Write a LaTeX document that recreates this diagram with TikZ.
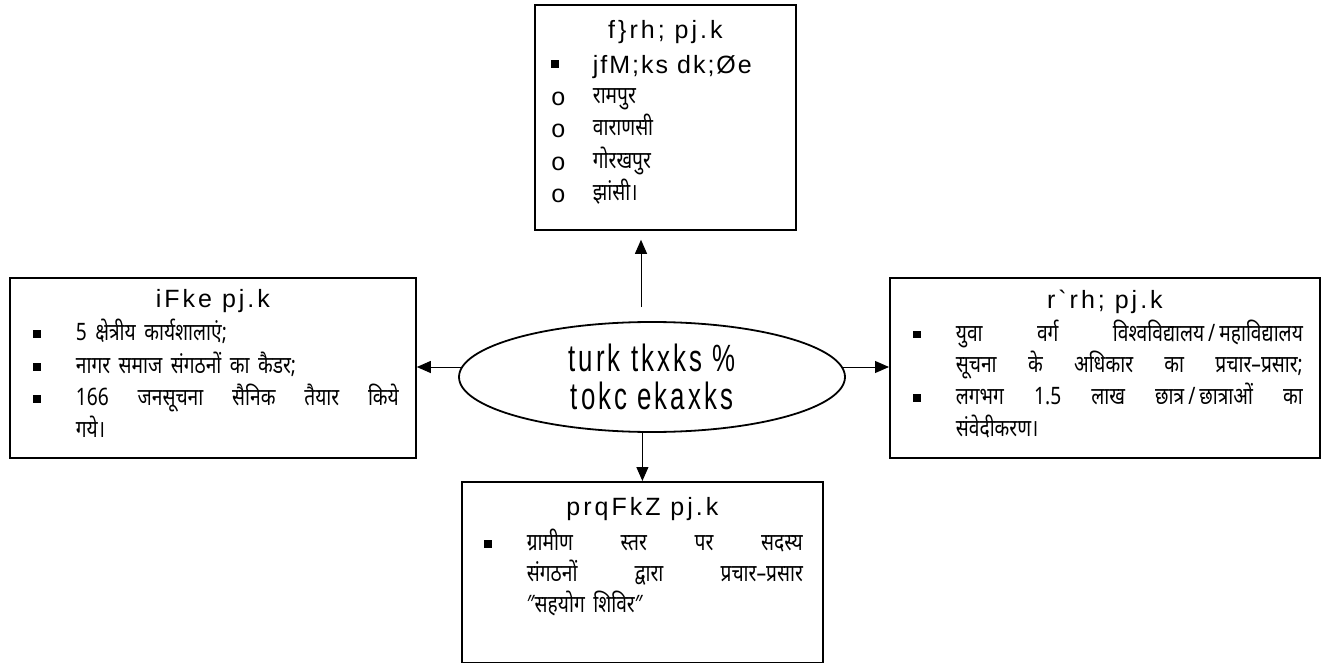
\documentclass[tikz,border=0pt]{standalone}
\usepackage{fontspec}
\setmainfont{Liberation Sans}
\newfontfamily\hindi[Script=Devanagari,FakeStretch=0.8,WordSpace=1.7]{Noto Sans}
\newfontfamily\kruti[LetterSpace=12]{Liberation Sans}
\newfontfamily\krutimid[FakeStretch=0.68,LetterSpace=8]{Liberation Sans}
\newfontfamily\cour{Liberation Mono}
\usetikzlibrary{shapes.geometric, arrows.meta, positioning}

\newcommand{\sqb}{\raisebox{2.5pt}{\rule{8pt}{8pt}}}
\newcommand{\cib}{\raisebox{-2pt}{\cour\fontsize{25}{25}\selectfont o}}
\newcommand{\bul}[3]{\par\noindent\llap{\makebox[#1][l]{#2}}#3}
\newcommand{\cont}[1]{\par\noindent #1}
\newcommand{\ttl}[2]{{\centering\kruti\fontsize{25}{30}\selectfont\rule{0pt}{#1}#2\par}}
\newcommand{\body}[2]{\raggedright\hindi\fontsize{24}{#2}\selectfont\leftskip=#1}

\begin{document}
\begin{tikzpicture}[x=1pt, y=-1pt,
    box/.style={draw, line width=1.8pt, inner sep=0pt, anchor=north west},
    conn/.style={line width=1pt, -{Triangle[length=14pt,width=12pt]}}]
  \useasboundingbox (0,0) rectangle (1323,663);

  % centre
  \node[ellipse, draw, line width=1.8pt, minimum width=386pt, minimum height=110pt,
        inner sep=0pt, align=center, font=\krutimid\fontsize{38}{38}\selectfont]
        (ell) at (652,377) {turk tkxks \%\\tokc ekaxks};

  % phase boxes
  \node[box] (top) at (534,4) {\parbox[t][225pt][t]{261pt}{\lineskiplimit=-100pt
    \ttl{34pt}{f\}rh; pj.k}
    \vspace{2.5pt}
    \body{58pt}{32.5pt}
    \bul{42pt}{\raisebox{6pt}{\rule{8pt}{8pt}}}{{\kruti\fontsize{25}{32.5}\selectfont\addfontfeature{LetterSpace=8}jfM;ks dk;Øe}}
    \vspace{-3pt}
    \bul{42pt}{\cib}{रामपुर}
    \bul{42pt}{\cib}{वाराणसी}
    \bul{42pt}{\cib}{गोरखपुर}
    \bul{42pt}{\cib}{झांसी।}}};

  \node[box] (left) at (9,277) {\parbox[t][180pt][t]{406pt}{\lineskiplimit=-100pt
    \ttl{30pt}{iFke pj.k}
    \vspace{0.7pt}
    \body{66pt}{32.3pt}
    \bul{43pt}{\sqb}{5 क्षेत्रीय कार्यशालाएं;}
    \bul{43pt}{\sqb}{नागर समाज संगठनों का कैडर;}
    \bul{43pt}{\sqb}{\makebox[323pt][s]{166 जनसूचना सैनिक तैयार किये}}
    \cont{गये।}}};

  \node[box] (right) at (889,277) {\parbox[t][180pt][t]{430pt}{\lineskiplimit=-100pt
    \ttl{31pt}{r`rh; pj.k}
    \vspace{0.3pt}
    \body{66pt}{31.8pt}
    \bul{43pt}{\sqb}{\makebox[347pt][s]{युवा वर्ग विश्वविद्यालय\,/\,महाविद्यालय}}
    \cont{\makebox[347pt][s]{सूचना के अधिकार का प्रचार–प्रसार;}}
    \bul{43pt}{\sqb}{\makebox[347pt][s]{लगभग 1.5 लाख छात्र\,/\,छात्राओं का}}
    \cont{संवेदीकरण।}}};

  \node[box] (bottom) at (461,481) {\parbox[t][181pt][t]{361pt}{\lineskiplimit=-100pt
    \ttl{34pt}{prqFkZ pj.k}
    \vspace{4pt}
    \body{65pt}{31pt}
    \bul{43pt}{\sqb}{\makebox[276pt][s]{ग्रामीण स्तर पर सदस्य}}
    \cont{\makebox[276pt][s]{संगठनों द्वारा प्रचार–प्रसार}}
    \cont{″सहयोग शिविर″}}};

  % arrows
  \coordinate (upst) at (641,307);
  \draw[conn, shorten >=9pt] (upst) -- (upst |- top.south);
  \draw[conn] (ell.177) -- (ell.177 -| left.east);
  \draw[conn] (ell.3) -- (ell.3 -| right.west);
  \draw[conn] (ell.south -| bottom.north) -- (bottom.north);
\end{tikzpicture}
\end{document}
